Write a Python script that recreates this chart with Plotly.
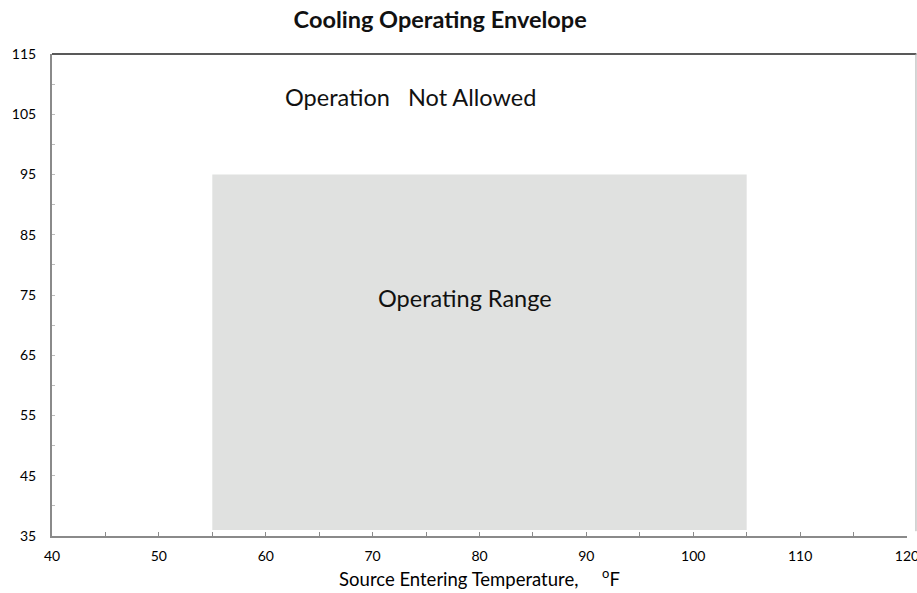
import plotly.graph_objects as go

# envelope limits (deg F)
source_temp_range = [55, 105]
load_temp_range = [36, 95]

x_axis_range = [40, 120]
y_axis_range = [35, 115]
x_ticks = [40, 50, 60, 70, 80, 90, 100, 110, 120]
y_ticks = [35, 45, 55, 65, 75, 85, 95, 105, 115]

labels = ["Operation   Not Allowed", "Operating Range"]
label_x = [73.5, 78.6]
label_y = [107.9, 74.5]

FONT = "Lato, 'Open Sans', sans-serif"
AXIS_GRAY = "#8a8a8a"

x0, x1 = source_temp_range
y0, y1 = load_temp_range

fig = go.Figure()
fig.add_trace(
    go.Scatter(
        x=[x0, x1, x1, x0, x0],
        y=[y0, y0, y1, y1, y0],
        mode="lines",
        fill="toself",
        fillcolor="#e0e1e0",
        line=dict(width=0),
        hoverinfo="skip",
        showlegend=False,
    )
)

for text, lx, ly in zip(labels, label_x, label_y):
    fig.add_annotation(
        x=lx, y=ly, text=text, showarrow=False,
        font=dict(family=FONT, size=23.5, color="#111111"),
    )

# black top border and thin right border running past the plot area
fig.add_shape(type="line", xref="paper", yref="paper", x0=0, x1=1.011, y0=1, y1=1,
              line=dict(color="#222222", width=1.5))
fig.add_shape(type="line", xref="paper", yref="paper", x0=1.0105, x1=1.0105, y0=0.01, y1=1,
              line=dict(color="#aaaaaa", width=1))

fig.update_layout(
    width=917,
    height=593,
    margin=dict(l=52, r=10, t=54, b=57),
    paper_bgcolor="white",
    plot_bgcolor="white",
    font=dict(family=FONT, size=14, color="#000000"),
    title=dict(
        text="<b>Cooling Operating Envelope</b>",
        x=0.48, xanchor="center", y=0.966, yanchor="middle",
        font=dict(family=FONT, size=23.5, color="#111111"),
    ),
)
fig.update_xaxes(
    range=x_axis_range,
    tickvals=x_ticks,
    automargin=False,
    ticklabeloverflow="allow",
    showgrid=False,
    zeroline=False,
    showline=True,
    linecolor=AXIS_GRAY,
    linewidth=2,
    ticks="inside",
    ticklen=4,
    tickcolor=AXIS_GRAY,
    minor=dict(dtick=5, ticks="inside", ticklen=4, tickcolor=AXIS_GRAY, showgrid=False),
    ticklabelstandoff=6,
    title=dict(text="Source Entering Temperature,     <sup>o</sup>F",
               font=dict(family=FONT, size=18.5), standoff=10),
)
fig.update_yaxes(
    range=y_axis_range,
    tickvals=y_ticks,
    automargin=False,
    ticklabeloverflow="allow",
    showgrid=False,
    zeroline=False,
    showline=True,
    linecolor=AXIS_GRAY,
    linewidth=2,
    ticks="inside",
    ticklen=3,
    tickcolor="#bbbbbb",
    minor=dict(dtick=5, ticks="inside", ticklen=3, tickcolor="#bbbbbb", showgrid=False),
    ticklabelstandoff=11,
)

# drop the default page margin so the figure fills the window exactly
fig.write_html(
    "out.html",
    config={"displayModeBar": False},
    post_script="document.body.style.margin='0';document.body.style.overflow='hidden';",
)
